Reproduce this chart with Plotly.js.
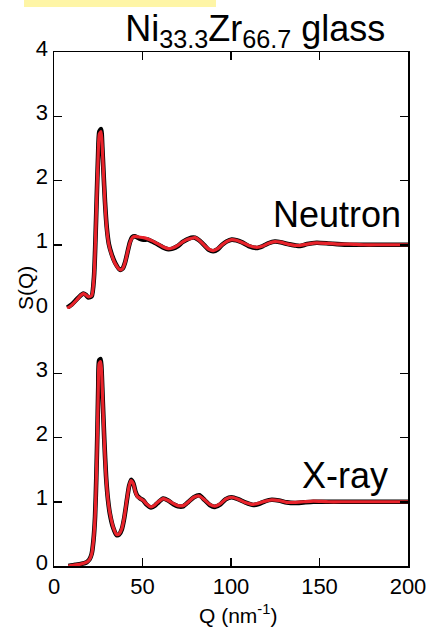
<!DOCTYPE html>
<html>
<head>
<meta charset="utf-8">
<script src="https://cdn.plot.ly/plotly-3.0.1.min.js"></script>
<style>html,body{margin:0;padding:0;background:#fff;}#chart{width:429px;height:629px;}</style>
</head>
<body>
<div id="chart"></div>
<script>
// Neutron S(Q)
const qNeutron = [7.5, 10, 12.8, 15, 16.5, 18, 19.4, 21.3, 22.6, 23.4, 24.1, 24.9, 25.6, 26.6, 27.3, 27.9, 28.8, 29.8, 31, 32.6, 34.5, 37.3, 38.8, 40.1, 41.5, 42.9, 44.3, 45.8, 48, 50.5, 53, 55.5, 58.9, 61.5, 64.6, 67, 70, 72.5, 75, 77.5, 79.7, 82, 85, 87.5, 90, 92.5, 95, 97.5, 100.4, 103, 106, 110, 114.5, 118, 121, 124.8, 128, 132, 136, 139, 143, 148.4, 155, 160, 167, 175, 185, 200];
const sNeutronExp = [0.02, 0.07, 0.15, 0.21, 0.24, 0.22, 0.18, 0.2, 0.5, 1.06, 1.7, 2.38, 2.76, 2.8, 2.52, 2.17, 1.67, 1.27, 1.01, 0.85, 0.72, 0.61, 0.63, 0.72, 0.88, 1.04, 1.12, 1.13, 1.1, 1.08, 1.08, 1.05, 1.0, 0.96, 0.93, 0.94, 0.98, 1.04, 1.08, 1.11, 1.11, 1.07, 0.99, 0.92, 0.9, 0.93, 1.0, 1.05, 1.08, 1.07, 1.04, 0.98, 0.95, 0.98, 1.02, 1.05, 1.04, 1.01, 0.99, 0.98, 1.01, 1.03, 1.02, 1.01, 1.0, 1.0, 1.0, 1.0];
const sNeutronFit = [0.01, 0.06, 0.14, 0.21, 0.24, 0.22, 0.19, 0.21, 0.5, 1.05, 1.69, 2.35, 2.72, 2.76, 2.5, 2.15, 1.65, 1.25, 1.0, 0.84, 0.71, 0.61, 0.63, 0.72, 0.88, 1.03, 1.11, 1.13, 1.12, 1.11, 1.09, 1.06, 1.01, 0.97, 0.94, 0.95, 0.99, 1.04, 1.08, 1.1, 1.11, 1.07, 0.99, 0.93, 0.91, 0.94, 1.0, 1.05, 1.08, 1.07, 1.04, 0.99, 0.96, 0.98, 1.02, 1.05, 1.04, 1.01, 0.99, 0.99, 1.01, 1.03, 1.02, 1.01, 1.01, 1.0, 1.0, 1.0];

// X-ray S(Q)
const qXray = [8.1, 12, 15, 18.5, 20, 21.3, 22.3, 23.2, 23.9, 24.5, 25, 25.5, 26.4, 27, 27.5, 28.4, 29.4, 30.5, 31.6, 33.5, 35.4, 36.8, 38.3, 39.7, 41.1, 42.4, 43.5, 44.8, 46, 47.1, 48.8, 50.5, 52.2, 54.8, 57, 58.9, 61.7, 64.5, 67.5, 70, 73, 76, 79, 82.1, 85, 88, 90.9, 94, 97, 100.4, 104, 108, 112.6, 116, 119.5, 123, 127, 131.5, 136, 141, 146.5, 155, 165, 180, 200];
const sXrayExp = [0.0, 0.02, 0.03, 0.06, 0.1, 0.19, 0.4, 0.77, 1.37, 2.08, 2.78, 3.2, 3.22, 2.97, 2.6, 1.97, 1.4, 1.03, 0.81, 0.59, 0.48, 0.49, 0.57, 0.75, 1.01, 1.24, 1.34, 1.29, 1.16, 1.09, 1.05, 1.02, 0.96, 0.91, 0.94, 0.99, 1.05, 1.02, 0.96, 0.93, 0.93, 1.0, 1.07, 1.1, 1.03, 0.95, 0.92, 0.96, 1.04, 1.07, 1.04, 0.99, 0.95, 0.97, 1.01, 1.03, 1.02, 0.99, 0.98, 0.99, 1.0, 1.0, 1.0, 1.0, 1.0];
const sXrayFit = [0.0, 0.02, 0.03, 0.06, 0.1, 0.19, 0.4, 0.76, 1.35, 2.06, 2.75, 3.15, 3.18, 2.95, 2.58, 1.95, 1.39, 1.03, 0.82, 0.6, 0.49, 0.5, 0.58, 0.76, 1.02, 1.24, 1.33, 1.28, 1.15, 1.08, 1.05, 1.02, 0.97, 0.92, 0.95, 1.0, 1.05, 1.02, 0.97, 0.94, 0.94, 1.0, 1.07, 1.09, 1.03, 0.96, 0.93, 0.97, 1.04, 1.07, 1.04, 0.99, 0.96, 0.98, 1.01, 1.03, 1.02, 0.99, 0.99, 1.0, 1.01, 1.0, 1.0, 1.0, 1.0];

const xTickVals = [0, 50, 100, 150, 200];
const yTickValsBottom = [0, 1, 2, 3];
const yTickValsTop = [0, 1, 2, 3, 4];

const FONT = 'Liberation Sans, Arial, Helvetica, sans-serif';
const BLACK_W = 4.6, RED_W = 3.2;
const RED = '#E8232B';

function tr(x, y, xa, ya, color, w) {
  return {x: x, y: y, xaxis: xa, yaxis: ya, mode: 'lines', type: 'scatter',
    line: {color: color, width: w, shape: 'spline', smoothing: 0.6}, hoverinfo: 'skip'};
}

const data = [
  tr(qXray, sXrayExp, 'x', 'y', '#000000', BLACK_W),
  tr(qXray, sXrayFit, 'x', 'y', RED, RED_W),
  tr(qNeutron, sNeutronExp, 'x2', 'y2', '#000000', BLACK_W),
  tr(qNeutron, sNeutronFit, 'x2', 'y2', RED, RED_W)
];

const axCommon = {
  showline: true, linecolor: '#000', linewidth: 1.5,
  ticks: 'inside', ticklen: 8, tickwidth: 1.5, tickcolor: '#000',
  showgrid: false, zeroline: false,
  tickfont: {family: FONT, size: 22, color: '#000'}
};

const layout = {
  width: 429, height: 629,
  margin: {l: 54, r: 21, t: 52, b: 63},
  paper_bgcolor: '#fff', plot_bgcolor: 'rgba(0,0,0,0)',
  showlegend: false,
  font: {family: FONT, color: '#000'},
  title: {
    text: 'Ni<sub>33.3</sub>Zr<sub>66.7</sub> glass',
    font: {family: FONT, size: 36, color: '#000'},
    xref: 'container', x: 0.595, xanchor: 'center',
    yref: 'container', y: 0.955, yanchor: 'middle'
  },
  xaxis: Object.assign({}, axCommon, {
    domain: [0, 1], anchor: 'y', range: [0, 200], tickvals: xTickVals,
    mirror: false, ticklabelstandoff: 0
  }),
  xaxis2: Object.assign({}, axCommon, {
    domain: [0, 1], anchor: 'y2', range: [0, 200], tickvals: xTickVals,
    side: 'top', showticklabels: false, matches: 'x'
  }),
  yaxis: Object.assign({}, axCommon, {
    domain: [0, 0.5], anchor: 'x', range: [0, 4], tickvals: yTickValsBottom,
    mirror: 'ticks', ticklabelshift: -4, ticklabelstandoff: 0
  }),
  yaxis2: Object.assign({}, axCommon, {
    domain: [0.5, 1], anchor: 'x2', range: [0, 4], tickvals: yTickValsTop,
    mirror: 'ticks', ticklabelshift: -4, ticklabelstandoff: 0
  }),
  annotations: [
    {text: 'Neutron', xref: 'paper', x: 0.985, xanchor: 'right', yref: 'y2', y: 1.47, yanchor: 'middle',
     showarrow: false, font: {family: FONT, size: 36, color: '#000'}},
    {text: 'X-ray', xref: 'paper', x: 0.95, xanchor: 'right', yref: 'y', y: 1.41, yanchor: 'middle',
     showarrow: false, font: {family: FONT, size: 36, color: '#000'}},
    {text: 'Q (nm<sup>-1</sup>)', xref: 'paper', x: 0.52, xanchor: 'center', yref: 'paper', y: -0.093, yanchor: 'middle',
     showarrow: false, font: {family: FONT, size: 21, color: '#000'}},
    {text: 'S(Q)', xref: 'paper', x: -0.08, xanchor: 'center', yref: 'paper', y: 0.54, yanchor: 'middle',
     textangle: -90, showarrow: false, font: {family: FONT, size: 21, color: '#000'}}
  ],
  shapes: [
    {type: 'rect', xref: 'paper', yref: 'paper', x0: -0.0847, x1: 0.4576, y0: 1.0875, y1: 1.11,
     fillcolor: '#FEF5A6', line: {width: 0}, layer: 'below'}
  ]
};

Plotly.newPlot('chart', data, layout, {displayModeBar: false, staticPlot: true});
</script>
</body>
</html>
